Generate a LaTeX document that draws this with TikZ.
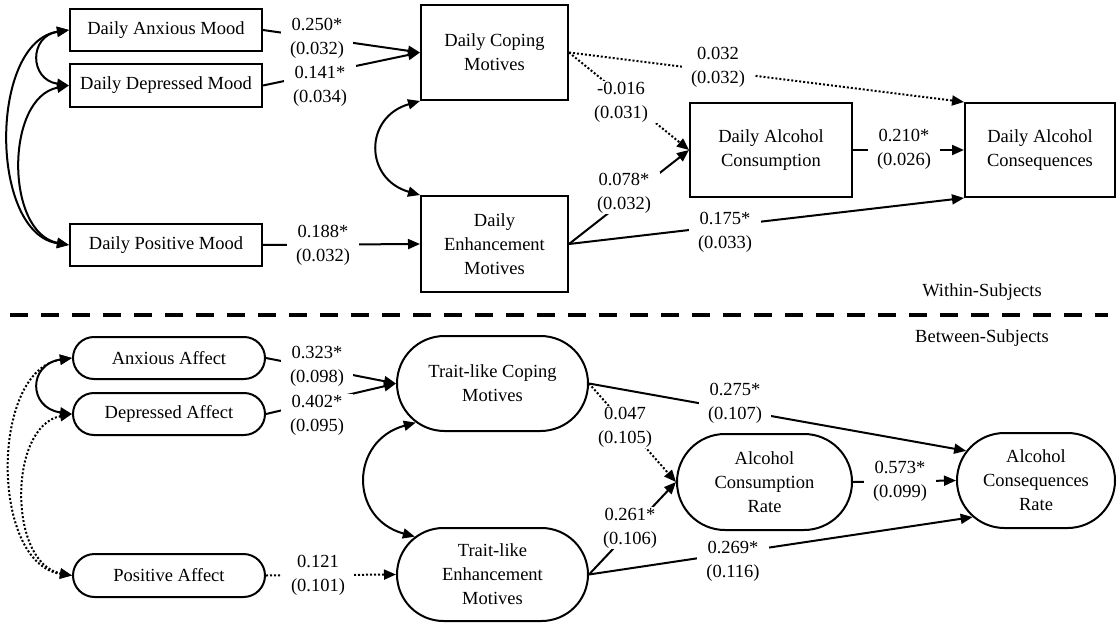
\documentclass[tikz,border=0pt]{standalone}
\usepackage{fontspec}
\setmainfont{Liberation Serif}
\usetikzlibrary{arrows.meta,shapes.misc}
\begin{document}
\begin{tikzpicture}[x=1pt,y=-1pt,
  every node/.style={font=\fontsize{18.5}{24}\selectfont},
  box/.style={draw,line width=2pt,align=center,inner sep=0pt},
  pill/.style={draw,line width=2pt,rounded rectangle,align=center,inner sep=0pt},
  lab/.style={fill=white,align=center,inner xsep=9pt,inner ysep=1pt},
  tip/.tip={Triangle[length=12pt,width=10pt]},
  conn/.style={line width=2pt,-tip},
  dconn/.style={conn,dash pattern=on 2pt off 2pt},
  dbl/.style={line width=2pt,tip-tip},
  ddbl/.style={dbl,dash pattern=on 2pt off 2pt},
]
\useasboundingbox (0,0) rectangle (1117,626);

% ---------- Within-subjects ----------
\node[box,minimum width=192pt,minimum height=42pt] (anx) at (166,30) {Daily Anxious Mood};
\node[box,minimum width=192pt,minimum height=43pt] (dep) at (166,85.5) {Daily Depressed Mood};
\node[box,minimum width=192pt,minimum height=42pt] (pos) at (166,245) {Daily Positive Mood};
\node[box,minimum width=147pt,minimum height=95pt] (cop) at (494.5,52.5) {Daily Coping\\Motives};
\node[box,minimum width=147pt,minimum height=96pt] (enh) at (494.5,244) {Daily\\Enhancement\\Motives};
\node[box,minimum width=162pt,minimum height=94pt] (cons) at (771,150) {Daily Alcohol\\Consumption};
\node[box,minimum width=150pt,minimum height=94pt] (conq) at (1040,150) {Daily Alcohol\\Consequences};

\draw[dbl] (anx.west) .. controls +(-40,6) and +(-40,-6) .. (dep.west);
\draw[dbl] (anx.west) .. controls +(-80,12) and +(-80,-12) .. (pos.west);
\draw[dbl] (dep.west) .. controls +(-64,12) and +(-64,-12) .. (pos.west);
\draw[dbl] (cop.south west) .. controls +(-56,16) and +(-56,-16) .. (enh.north west);

\draw[conn] (anx.east) -- (cop.west);
\draw[conn] (dep.east) -- (cop.west);
\draw[conn] (pos.east) -- (enh.west);
\draw[dconn] (cop.east) -- (conq.north west);
\draw[dconn] (cop.east) -- (cons.west);
\draw[conn] (enh.east) -- (cons.west);
\draw[conn] (enh.east) -- (conq.south west);
\draw[conn] (cons.east) -- (conq.west);

\node[lab] (l1) at (317,38) {0.250*\\(0.032)};
\node[lab] (l2) at (320,86) {0.141*\\(0.034)};
\node[lab] (l3) at (323,245) {0.188*\\(0.032)};
\node[lab] (l4) at (718,67) {0.032\\(0.032)};
\node[lab] (l5) at (621,102) {-0.016\\(0.031)};
\node[lab] (l6) at (624,193) {0.078*\\(0.032)};
\node[lab] (l7) at (725,232) {0.175*\\(0.033)};
\node[lab] (l8) at (904,149) {0.210*\\(0.026)};

\node (within) at (982,292) {Within-Subjects};
\coordinate (sepl) at (10,315);
\coordinate (sepr) at (1108,315);
\draw[line width=4pt,dash pattern=on 18pt off 13pt] (sepl) -- (sepr);
\node (between) at (982,338) {Between-Subjects};

% ---------- Between-subjects ----------
\node[pill,minimum width=192pt,minimum height=42pt] (banx) at (169,358) {Anxious Affect};
\node[pill,minimum width=192pt,minimum height=42pt] (bdep) at (169,414) {Depressed Affect};
\node[pill,minimum width=192pt,minimum height=43pt] (bpos) at (169,575.5) {Positive Affect};
\node[pill,minimum width=191pt,minimum height=95pt] (tcop) at (492.5,383.5) {Trait-like Coping\\Motives};
\node[pill,minimum width=191pt,minimum height=93pt] (tenh) at (492.5,574.5) {Trait-like\\Enhancement\\Motives};
\node[pill,minimum width=175pt,minimum height=96pt] (bcons) at (764.5,482) {Alcohol\\Consumption\\Rate};
\node[pill,minimum width=158pt,minimum height=95pt] (bconq) at (1036,480.5) {Alcohol\\Consequences\\Rate};

\draw[dbl] (banx.west) .. controls +(-44,6) and +(-44,-6) .. (bdep.west);
\draw[ddbl] (banx.west) .. controls +(-82,12) and +(-82,-12) .. (bpos.west);
\draw[ddbl] (bdep.west) .. controls +(-64,12) and +(-64,-12) .. (bpos.west);
\draw[dbl] (tcop.207) .. controls +(-66,18) and +(-66,-18) .. (tenh.154);

\draw[conn] (banx.east) -- (tcop.west);
\draw[conn] (bdep.east) -- (tcop.west);
\draw[dconn] (bpos.east) -- (tenh.west);
\draw[dconn] (tcop.east) -- (bcons.west);
\draw[conn] (tcop.east) -- (bconq.157);
\draw[conn] (tenh.east) -- (bcons.west);
\draw[conn] (tenh.east) -- (bconq.210);
\draw[conn] (bcons.east) -- (bconq.west);

\node[lab] (m1) at (317,366) {0.323*\\(0.098)};
\node[lab] (m2) at (317,415) {0.402*\\(0.095)};
\node[lab] (m3) at (318,575) {0.121\\(0.101)};
\node[lab] (m4) at (625,427) {0.047\\(0.105)};
\node[lab] (m5) at (735,403) {0.275*\\(0.107)};
\node[lab] (m6) at (630,528) {0.261*\\(0.106)};
\node[lab] (m7) at (733,561) {0.269*\\(0.116)};
\node[lab] (m8) at (900,481) {0.573*\\(0.099)};
\end{tikzpicture}
\end{document}
